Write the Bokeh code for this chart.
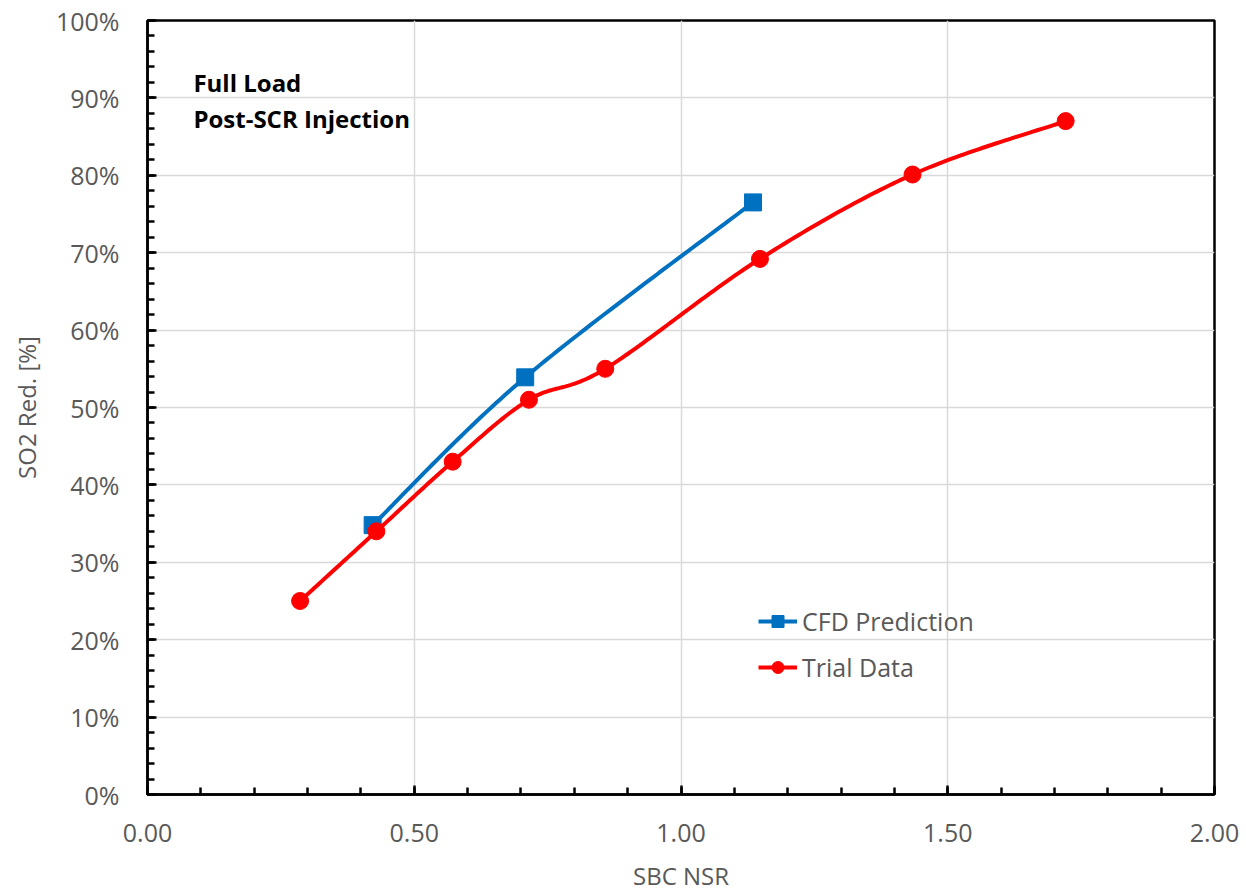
import numpy as np
from bokeh.plotting import figure
from bokeh.models import (Range1d, SingleIntervalTicker, CustomJSTickFormatter,
                          PrintfTickFormatter, Legend, LegendItem, Label)
from bokeh.embed import file_html
from bokeh.resources import INLINE

# ---- data ----
trial_nsr = [0.286, 0.429, 0.572, 0.715, 0.858, 1.148, 1.434, 1.721]
trial_red = [25.0, 34.0, 43.0, 51.0, 55.0, 69.2, 80.1, 87.0]
cfd_nsr = [0.422, 0.708, 1.135]
cfd_red = [34.8, 53.9, 76.5]

x_title = "SBC NSR"
y_title = "SO2 Red. [%]"
note_lines = ["Full Load", "Post-SCR Injection"]
series_names = ["CFD Prediction", "Trial Data"]

FONT = "Open Sans"
GRAY = "#595959"
BLUE = "#0070C0"
RED = "#FF0000"


def smooth(xs, ys, n=40):
    """Excel-like smoothed path (Catmull-Rom Bezier) through the data points."""
    P = np.column_stack([xs, ys]).astype(float)
    m = len(P)
    out = [P[0]]
    for i in range(m - 1):
        p0 = P[i - 1] if i > 0 else P[i]
        p1 = P[i]
        p2 = P[i + 1]
        p3 = P[i + 2] if i + 2 < m else P[i + 1]
        c1 = p1 + (p2 - p0) / 6.0
        c2 = p2 - (p3 - p1) / 6.0
        t = np.linspace(0, 1, n)[1:, None]
        seg = ((1 - t) ** 3) * p1 + 3 * ((1 - t) ** 2) * t * c1 + 3 * (1 - t) * t ** 2 * c2 + t ** 3 * p2
        out.extend(seg)
    out = np.array(out)
    return out[:, 0], out[:, 1]


p = figure(width=1246, height=894, output_backend="svg", toolbar_location=None,
           x_range=Range1d(0, 2.0), y_range=Range1d(0, 100),
           min_border_left=147, min_border_top=20, min_border_right=32, min_border_bottom=97)

p.outline_line_color = "black"
p.outline_line_width = 2.5
p.outline_line_alpha = 1.0

# axes
p.xaxis.ticker = SingleIntervalTicker(interval=0.5, num_minor_ticks=5)
p.yaxis.ticker = SingleIntervalTicker(interval=10, num_minor_ticks=5)
p.xaxis.formatter = PrintfTickFormatter(format="%.2f")
p.yaxis.formatter = CustomJSTickFormatter(code="return tick.toFixed(0) + '%';")

for ax in (p.xaxis[0], p.yaxis[0]):
    ax.axis_line_color = "black"
    ax.axis_line_width = 2.5
    ax.major_tick_line_color = "black"
    ax.major_tick_line_width = 2.5
    ax.minor_tick_line_color = "black"
    ax.minor_tick_line_width = 2.5
    ax.major_tick_in = 9
    ax.major_tick_out = 0
    ax.minor_tick_in = 7
    ax.minor_tick_out = 0
    ax.major_label_text_font = FONT
    ax.major_label_text_font_size = "25px"
    ax.major_label_text_color = GRAY
    ax.axis_label_text_font = FONT
    ax.axis_label_text_font_size = "24px"
    ax.axis_label_text_color = GRAY
    ax.axis_label_text_font_style = "normal"

p.xaxis.axis_label = x_title
p.yaxis.axis_label = y_title
p.xaxis.major_label_standoff = 29
p.xaxis.axis_label_standoff = 14
p.yaxis.major_label_standoff = 28
p.yaxis.axis_label_standoff = 10

p.xgrid.grid_line_color = "#d9d9d9"
p.ygrid.grid_line_color = "#d9d9d9"
p.xgrid.grid_line_width = 1.5
p.ygrid.grid_line_width = 1.5

# series
bx, by = smooth(cfd_nsr, cfd_red)
rx, ry = smooth(trial_nsr, trial_red)

bl = p.line(bx, by, line_color=BLUE, line_width=4)
rl = p.line(rx, ry, line_color=RED, line_width=4)
bs = p.scatter(cfd_nsr, cfd_red, marker="square", size=17, fill_color=BLUE, line_color=BLUE)
rs = p.scatter(trial_nsr, trial_red, marker="circle", size=17, fill_color=RED, line_color=RED)

legend = Legend(items=[LegendItem(label=series_names[0], renderers=[bl, bs]),
                       LegendItem(label=series_names[1], renderers=[rl, rs])],
                location=(611, 110), orientation="vertical",
                background_fill_alpha=0, border_line_alpha=0,
                padding=0, margin=0, spacing=12,
                glyph_width=39, glyph_height=30, label_height=30,
                label_standoff=5,
                label_text_font=FONT, label_text_font_size="25px",
                label_text_color=GRAY)
p.add_layout(legend)

# annotation text
note_y = [92.0, 87.4]
for txt, yy in zip(note_lines, note_y):
    p.add_layout(Label(x=0.086, y=yy, text=txt, text_font=FONT, text_font_size="24px",
                       text_font_style="bold", text_color="black", text_baseline="middle"))

open("out.html", "w").write(file_html(p, INLINE))
